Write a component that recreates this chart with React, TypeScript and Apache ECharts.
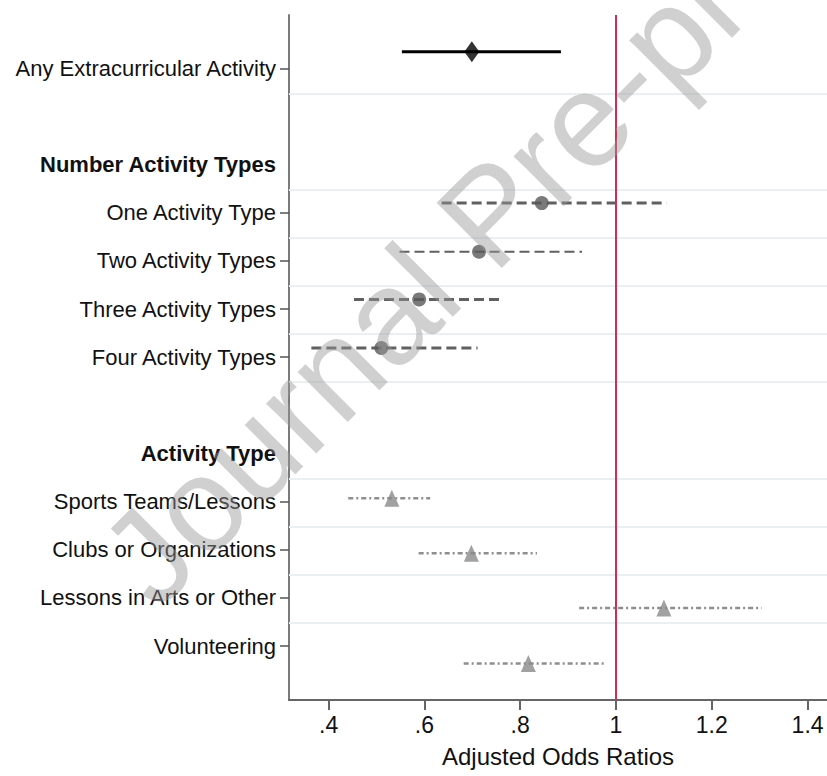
import React, { useEffect, useRef } from "react";
import * as echarts from "echarts";

// ---- Data ----
const rowLabels = [
  "Any Extracurricular Activity",
  "Number Activity Types",
  "One Activity Type",
  "Two Activity Types",
  "Three Activity Types",
  "Four Activity Types",
  "Activity Type",
  "Sports Teams/Lessons",
  "Clubs or Organizations",
  "Lessons in Arts or Other",
  "Volunteering",
];
const rowPositions = [0, 2, 3, 4, 5, 6, 8, 9, 10, 11, 12];
const headerRows = [2, 8];
const tickRows = [0, 3, 4, 5, 6, 9, 10, 11, 12];
const gridRows = [0.52, 2.52, 3.52, 4.52, 5.52, 6.52, 8.52, 9.52, 10.52, 11.52];

const xTickValues = [0.4, 0.6, 0.8, 1, 1.2, 1.4];
const xTickLabels = [".4", ".6", ".8", "1", "1.2", "1.4"];

const anyOR = [0.699];
const anyLo = [0.553];
const anyHi = [0.885];
const anyY = [-0.345];

const numOR = [0.845, 0.714, 0.589, 0.51];
const numLo = [0.636, 0.548, 0.453, 0.364];
const numHi = [1.106, 0.929, 0.765, 0.711];
const numY = [2.8, 3.81, 4.8, 5.81];

const typeOR = [0.532, 0.698, 1.1, 0.817];
const typeLo = [0.441, 0.588, 0.923, 0.682];
const typeHi = [0.612, 0.835, 1.304, 0.976];
const typeY = [8.93, 10.07, 11.21, 12.36];

// ---- Styles ----
const FONT = "Liberation Sans, Arial, sans-serif";
const numLineWidths = [3, 2, 3, 3];

function ciSeries(lo: number[], hi: number[], ys: number[], color: string, dash: number[] | null, widths: number[] | number) {
  return {
    type: "custom",
    z: 3,
    silent: true,
    encode: { x: [0, 1], y: 2 },
    data: lo.map((l, i) => [l, hi[i], ys[i]]),
    renderItem: (params: any, api: any) => {
      const a = api.coord([api.value(0), api.value(2)]);
      const b = api.coord([api.value(1), api.value(2)]);
      const w = Array.isArray(widths) ? widths[params.dataIndex] : widths;
      return {
        type: "line",
        shape: { x1: a[0], y1: a[1], x2: b[0], y2: b[1] },
        style: { stroke: color, lineWidth: w, lineDash: dash || undefined, lineCap: "butt" },
      };
    },
  };
}

export default function App() {
  const ref = useRef<HTMLDivElement>(null);
  useEffect(() => {
    document.body.style.margin = "0";
    if (!ref.current) return;
    const chart = echarts.init(ref.current, undefined, { renderer: "svg" });
    chart.setOption({
      animation: false,
      backgroundColor: "#ffffff",
      textStyle: { fontFamily: FONT },
      grid: { left: 289, right: 0, top: 15, bottom: 76, containLabel: false },
      xAxis: {
        type: "value",
        min: 0.3173,
        max: 1.4405,
        splitLine: { show: false },
        axisLine: { show: true, onZero: false, lineStyle: { color: "#666666", width: 2 } },
        axisTick: {
          show: true,
          customValues: xTickValues,
          length: 10,
          lineStyle: { color: "#666666", width: 2 },
        },
        axisLabel: {
          customValues: xTickValues,
          formatter: (v: number) => {
            const i = xTickValues.findIndex((t) => Math.abs(t - v) < 1e-6);
            return i >= 0 ? xTickLabels[i] : "";
          },
          fontSize: 23,
          color: "#111111",
          margin: 13,
          fontFamily: FONT,
        },
        name: "Adjusted Odds Ratios",
        nameLocation: "middle",
        nameGap: 44,
        nameTextStyle: { fontSize: 24, color: "#111111", fontFamily: FONT },
      },
      yAxis: {
        type: "value",
        inverse: true,
        min: -1.107,
        max: 13.12,
        splitLine: { show: false },
        axisLine: { show: true, onZero: false, lineStyle: { color: "#7a7a7a", width: 2 } },
        axisTick: {
          show: true,
          customValues: tickRows,
          length: 9,
          lineStyle: { color: "#555555", width: 1.5 },
        },
        axisLabel: {
          customValues: rowPositions,
          formatter: (v: number) => {
            const i = rowPositions.indexOf(v);
            if (i < 0) return "";
            const lab = rowLabels[i];
            return headerRows.includes(v) ? `{h|${lab}}` : lab;
          },
          fontSize: 22,
          color: "#111111",
          margin: 13,
          fontFamily: FONT,
          rich: {
            h: { fontSize: 22, fontWeight: "bold", color: "#111111", fontFamily: FONT },
          },
        },
      },
      graphic: [
        {
          type: "text",
          x: 490,
          y: 214,
          rotation: Math.PI / 4,
          z: 100,
          silent: true,
          style: {
            text: "Journal Pre-proof",
            fontSize: 134,
            fontFamily: FONT,
            fill: "rgba(150,150,150,0.45)",
            align: "center",
            verticalAlign: "middle",
            textAlign: "center",
            textVerticalAlign: "middle",
          },
        },
      ],
      series: [
        ciSeries(anyLo, anyHi, anyY, "#000000", null, 3),
        ciSeries(numLo, numHi, numY, "#606060", [10, 5], numLineWidths),
        ciSeries(typeLo, typeHi, typeY, "#8e8e8e", [5, 3, 2, 3], 2.5),
        {
          type: "scatter",
          z: 4,
          silent: true,
          symbol: "diamond",
          symbolSize: [15, 21],
          itemStyle: { color: "#000000" },
          data: anyOR.map((v, i) => [v, anyY[i]]),
          markLine: {
            silent: true,
            symbol: ["none", "none"],
            label: { show: false },
            lineStyle: { color: "#e8f0f1", width: 2, type: "solid" },
            data: gridRows.map((v) => ({ yAxis: v })),
          },
        },
        {
          type: "scatter",
          z: 4,
          silent: true,
          symbol: "circle",
          symbolSize: 14,
          itemStyle: { color: "#595959" },
          data: numOR.map((v, i) => [v, numY[i]]),
          markLine: {
            silent: true,
            symbol: ["none", "none"],
            label: { show: false },
            lineStyle: { color: "#d42a55", width: 2, type: "solid" },
            data: [{ xAxis: 1 }],
          },
        },
        {
          type: "scatter",
          z: 4,
          silent: true,
          symbol: "triangle",
          symbolSize: [15, 17],
          itemStyle: { color: "#8a8a8a" },
          data: typeOR.map((v, i) => [v, typeY[i]]),
        },
      ],
    });
    return () => chart.dispose();
  }, []);
  return <div ref={ref} style={{ width: 827, height: 776 }} />;
}
